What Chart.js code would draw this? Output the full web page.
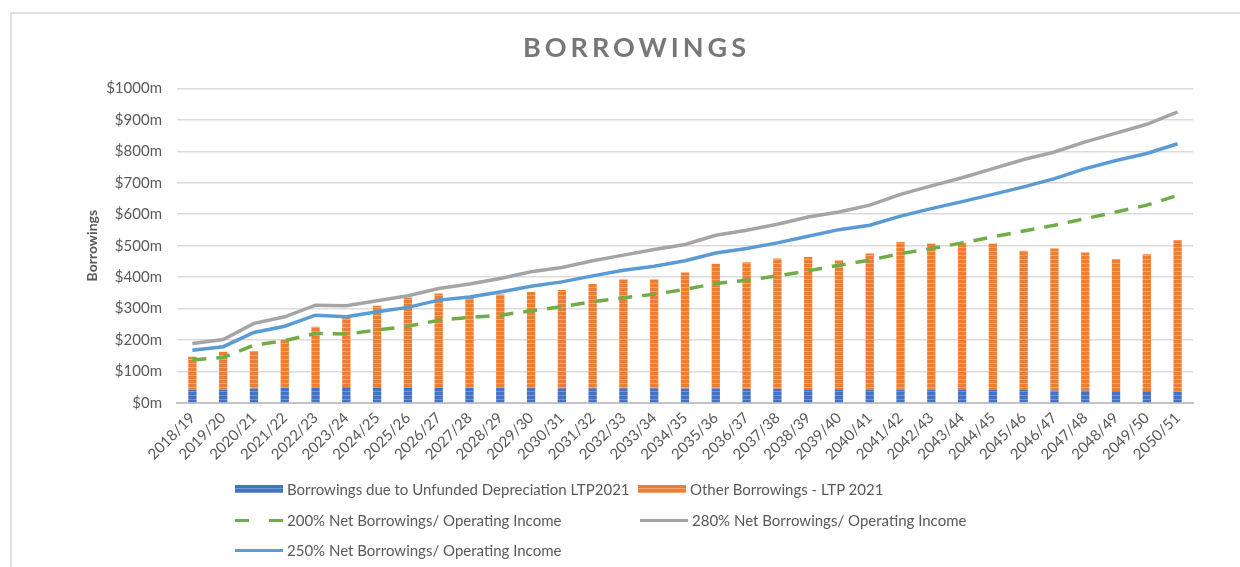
<!DOCTYPE html>
<html>
<head>
<meta charset="utf-8">
<script src="https://cdn.jsdelivr.net/npm/chart.js@4.4.1/dist/chart.umd.min.js"></script>
<style>
  html, body { margin:0; padding:0; background:#fff; }
  #wrap { position:relative; width:1240px; height:567px; overflow:hidden; }
  #frame { position:absolute; left:10px; top:12px; width:1240px; height:567px; border-left:2px solid #e0e0e0; border-top:2px solid #e0e0e0; }
  #borrowChart { position:absolute; left:0; top:0; }
  #legend { position:absolute; left:0; top:0; font-family:Lato, sans-serif; font-size:15px; color:#595959; }
  .lg-item { position:absolute; height:20px; display:flex; align-items:center; white-space:nowrap; }
  .lg-mark { width:48px; margin-right:4px; }
</style>
</head>
<body>
<div id="wrap">
  <div id="frame"></div>
  <canvas id="borrowChart" width="1240" height="567"></canvas>
  <div id="legend"></div>
</div>
<script>
// financial years
const years = ['2018/19','2019/20','2020/21','2021/22','2022/23','2023/24','2024/25','2025/26','2026/27','2027/28',
  '2028/29','2029/30','2030/31','2031/32','2032/33','2033/34','2034/35','2035/36','2036/37','2037/38',
  '2038/39','2039/40','2040/41','2041/42','2042/43','2043/44','2044/45','2045/46','2046/47','2047/48',
  '2048/49','2049/50','2050/51'];

// $m
const unfundedDep = [42,43,46,49,50,51,50,50,50,49,49,48,47,47,47,47,46,46,45,45,44,44,43,42,42,41,41,41,40,39,38,38,37];
const otherBorrow = [105,120,119,153,192,221,259,285,298,287,296,305,312,331,346,346,369,397,402,414,420,409,432,470,465,468,466,443,451,439,420,435,480];
const limit200 = [137,145,184,198,221,219,232,244,263,272,279,293,306,322,334,346,361,380,390,404,420,438,454,475,491,509,528,547,565,586,607,629,660];
const limit280 = [189,202,253,274,311,309,325,341,364,378,396,417,431,452,470,488,504,533,549,568,591,607,629,663,690,716,745,774,798,830,858,886,925];
const limit250 = [168,179,224,244,279,274,290,304,327,337,353,371,385,404,422,435,452,477,491,509,530,551,565,594,618,640,663,687,713,745,771,793,824];

const TXT = '#595959';

// striped fill like the excel bars
function stripes(base, light) {
  const c = document.createElement('canvas');
  c.width = 4; c.height = 4;
  const g = c.getContext('2d');
  g.fillStyle = base; g.fillRect(0, 0, 4, 4);
  g.fillStyle = light; g.fillRect(0, 3, 4, 1);
  return g.createPattern(c, 'repeat');
}

// legend spots (x, y centre) per dataset
const legendSpots = [[235,489],[638,489],[235,520],[640,520],[235,550]];

const htmlLegend = {
  id: 'htmlLegend',
  afterUpdate(chart) {
    const box = document.getElementById('legend');
    box.innerHTML = '';
    chart.data.datasets.forEach((ds, i) => {
      const [x, y] = legendSpots[i];
      const item = document.createElement('div');
      item.className = 'lg-item';
      item.style.left = x + 'px';
      item.style.top = (y - 10) + 'px';
      const mark = document.createElement('span');
      mark.className = 'lg-mark';
      if (ds.type === 'line') {
        mark.style.height = '3px';
        mark.style.background = ds.borderDash
          ? `repeating-linear-gradient(to right, ${ds.borderColor} 0 14px, transparent 14px 34px)`
          : ds.borderColor;
      } else {
        mark.style.height = '8px';
        mark.style.background = `repeating-linear-gradient(to bottom, ${ds.legendColor} 0 3px, ${ds.legendLight} 3px 4px)`;
      }
      const txt = document.createElement('span');
      txt.textContent = ds.label;
      item.appendChild(mark);
      item.appendChild(txt);
      box.appendChild(item);
    });
  }
};

// spaced-out title
const spacedTitle = {
  id: 'spacedTitle',
  afterInit(chart) {
    const t = chart.titleBlock;
    if (!t) return;
    const orig = t.draw.bind(t);
    t.draw = (...a) => {
      chart.ctx.save();
      chart.ctx.letterSpacing = '4px';
      orig(...a);
      chart.ctx.restore();
    };
  }
};

const ctx = document.getElementById('borrowChart').getContext('2d');
new Chart(ctx, {
  type: 'bar',
  data: {
    labels: years,
    datasets: [
      {
        label: 'Borrowings due to Unfunded Depreciation LTP2021',
        data: unfundedDep,
        backgroundColor: stripes('#4472C4', '#7094d6'),
        legendColor: '#4472C4', legendLight: '#7094d6',
        stack: 'bars', order: 3,
        barPercentage: 0.27, categoryPercentage: 1
      },
      {
        label: 'Other Borrowings - LTP 2021',
        data: otherBorrow,
        backgroundColor: stripes('#ED7D31', '#f4a670'),
        legendColor: '#ED7D31', legendLight: '#f4a670',
        stack: 'bars', order: 3,
        barPercentage: 0.27, categoryPercentage: 1
      },
      {
        type: 'line',
        label: '200% Net Borrowings/ Operating Income',
        data: limit200,
        borderColor: '#70AD47',
        borderWidth: 3.5,
        borderDash: [14, 10],
        pointRadius: 0,
        stack: 'l200', order: 0
      },
      {
        type: 'line',
        label: '280% Net Borrowings/ Operating Income',
        data: limit280,
        borderColor: '#A5A5A5',
        borderWidth: 3.5,
        pointRadius: 0,
        stack: 'l280', order: 1
      },
      {
        type: 'line',
        label: '250% Net Borrowings/ Operating Income',
        data: limit250,
        borderColor: '#5B9BD5',
        borderWidth: 3.5,
        pointRadius: 0,
        stack: 'l250', order: 1
      }
    ]
  },
  options: {
    responsive: false,
    animation: false,
    layout: { padding: { left: 80, right: 47, top: 14, bottom: 0 } },
    plugins: {
      legend: { display: false },
      tooltip: { enabled: false },
      title: {
        display: true,
        text: 'BORROWINGS',
        color: '#777777',
        font: { family: 'Lato', size: 27, weight: 'bold' },
        padding: { top: 18, bottom: 24 }
      }
    },
    scales: {
      x: {
        stacked: true,
        grid: { display: false, drawTicks: false },
        border: { color: '#c4c4c4', width: 2 },
        ticks: {
          color: TXT,
          font: { family: 'Lato', size: 15 },
          maxRotation: 45, minRotation: 45,
          autoSkip: false,
          padding: 6
        },
        afterFit: s => { s.height = 164; }
      },
      y: {
        stacked: true,
        min: 0, max: 1000,
        grid: { color: '#dcdcdc', lineWidth: 1.5, drawTicks: false },
        border: { display: false },
        ticks: {
          stepSize: 100,
          color: TXT,
          font: { family: 'Lato', size: 15 },
          padding: 15,
          callback: v => '$' + v + 'm'
        },
        title: {
          display: true,
          text: 'Borrowings',
          color: TXT,
          font: { family: 'Lato', size: 14, weight: 'bold' },
          padding: { top: 4, bottom: 0 }
        },
        afterFit: s => { s.width = 97; }
      }
    }
  },
  plugins: [htmlLegend, spacedTitle]
});
</script>
</body>
</html>
